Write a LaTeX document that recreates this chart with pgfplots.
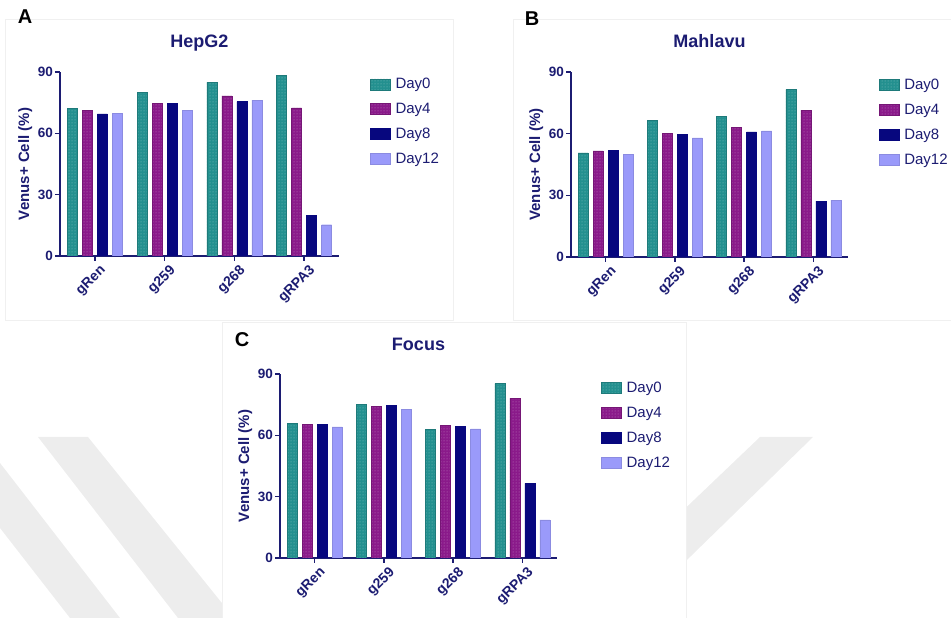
\documentclass[border=0pt]{standalone}
\usepackage{pgfplots}
\pgfplotsset{compat=1.18}
\usetikzlibrary{patterns}
\usepackage{fontspec}
\setmainfont{Liberation Sans}
\definecolor{cA}{HTML}{23908F}
\definecolor{cB}{HTML}{8A1A8A}
\definecolor{cC}{HTML}{07077E}
\definecolor{cD}{HTML}{9A9AFA}
\definecolor{ax}{HTML}{1C1C72}
\definecolor{wm}{HTML}{EDEDED}
\definecolor{fr}{HTML}{F0F0F0}

\pgfplotsset{
 panel/.style={
  scale only axis, anchor=south west,
  ybar=5pt, bar width=10pt,
  xmin=-0.5, xmax=3.5, ymin=0, ymax=90,
  xtick={0,1,2,3}, xticklabels={gRen,g259,g268,gRPA3},
  ytick={0,30,60,90},
  axis x line*=bottom, axis y line*=left,
  axis line style={ax, line width=1.4pt, -},
  major tick length=5pt, tick align=outside,
  tick style={ax, line width=1.4pt},
  ticklabel style={font=\fontsize{13.5}{13.5}\selectfont\bfseries, text=ax},
  xticklabel style={rotate=45, anchor=north east, inner sep=1pt, font=\fontsize{14}{14}\selectfont\bfseries, yshift=-4pt, xshift=2pt},
  yticklabel style={inner sep=2pt},
  /pgf/number format/assume math mode=true,
  ylabel={Venus+ Cell (\%)},
  ylabel style={font=\fontsize{15}{15}\selectfont\bfseries, text=ax},
  title style={font=\fontsize{18}{18}\selectfont\bfseries, text=ax, at={(0.5,1)}, anchor=base, yshift=18pt},
  legend style={anchor=north west, draw=none, fill=none,
    font=\fontsize{15}{15}\selectfont, text=ax, row sep=3pt,
    nodes={inner sep=5pt}},
  legend cell align=left,
  legend image code/.code={\path[#1] (0pt,-5.5pt) rectangle (20pt,5.5pt);},
 },
 s0/.style={fill=cA, draw=cA!85!black, line width=0.4pt, postaction={pattern=dots, pattern color=cA!55!white}},
 s1/.style={fill=cB, draw=cB!85!black, line width=0.4pt, postaction={pattern=dots, pattern color=cB!55!white}},
 s2/.style={fill=cC, draw=cC, line width=0.4pt},
 s3/.style={fill=cD, draw=cD!90!black, line width=0.4pt},
}

\begin{document}
\begin{tikzpicture}[x=1pt,y=1pt]
\useasboundingbox (0,0) rectangle (951,618);
% watermark
\fill[wm] (38,181) -- (88,181) -- (234,0) -- (178,0) -- cycle;
\fill[wm] (0,155) -- (120,0) -- (70,0) -- (0,90) -- cycle;
\fill[wm] (760,181) -- (813,181) -- (650,22) -- (650,76) -- cycle;
% panel frames
\draw[fr, fill=white] (5,298) rectangle (453,599);
\draw[fr, fill=white] (513,298) rectangle (951,599);
\draw[fr, fill=white] (222,0) rectangle (686,296);
% panel letters
\node[font=\fontsize{20}{20}\selectfont\bfseries, anchor=center] at (25,601) {A};
\node[font=\fontsize{20}{20}\selectfont\bfseries, anchor=center] at (532,599) {B};
\node[font=\fontsize{20}{20}\selectfont\bfseries, anchor=center] at (242,278) {C};

% Panel A
\begin{axis}[panel, at={(60pt,362pt)}, width=279pt, height=184pt, title={HepG2},
  legend style={at={(1.1,1.005)}}]
\addplot[s0] coordinates {(0,72.2) (1,80.2) (2,85.1) (3,88.4)};
\addplot[s1] coordinates {(0,71.1) (1,74.5) (2,78.3) (3,72.4)};
\addplot[s2] coordinates {(0,69.5) (1,74.5) (2,75.5) (3,20.0)};
\addplot[s3] coordinates {(0,69.8) (1,71.1) (2,76.2) (3,15.3)};
\legend{Day0,Day4,Day8,Day12}
\end{axis}

% Panel B
\begin{axis}[panel, at={(571pt,361pt)}, width=277pt, height=185pt, title={Mahlavu},
  legend style={at={(1.1,1.0)}}]
\addplot[s0] coordinates {(0,50.6) (1,66.4) (2,68.5) (3,81.4)};
\addplot[s1] coordinates {(0,51.6) (1,60.2) (2,63.2) (3,71.3)};
\addplot[s2] coordinates {(0,51.8) (1,59.6) (2,60.9) (3,27.2)};
\addplot[s3] coordinates {(0,50.0) (1,57.9) (2,61.4) (3,27.7)};
\legend{Day0,Day4,Day8,Day12}
\end{axis}

% Panel C
\begin{axis}[panel, at={(280pt,60pt)}, width=277pt, height=184pt, title={Focus},
  legend style={at={(1.148,0.995)}}]
\addplot[s0] coordinates {(0,65.8) (1,75.0) (2,63.0) (3,85.3)};
\addplot[s1] coordinates {(0,65.4) (1,74.2) (2,64.8) (3,78.1)};
\addplot[s2] coordinates {(0,65.3) (1,74.5) (2,64.5) (3,36.5)};
\addplot[s3] coordinates {(0,64.1) (1,72.8) (2,63.2) (3,18.6)};
\legend{Day0,Day4,Day8,Day12}
\end{axis}
\end{tikzpicture}
\end{document}
